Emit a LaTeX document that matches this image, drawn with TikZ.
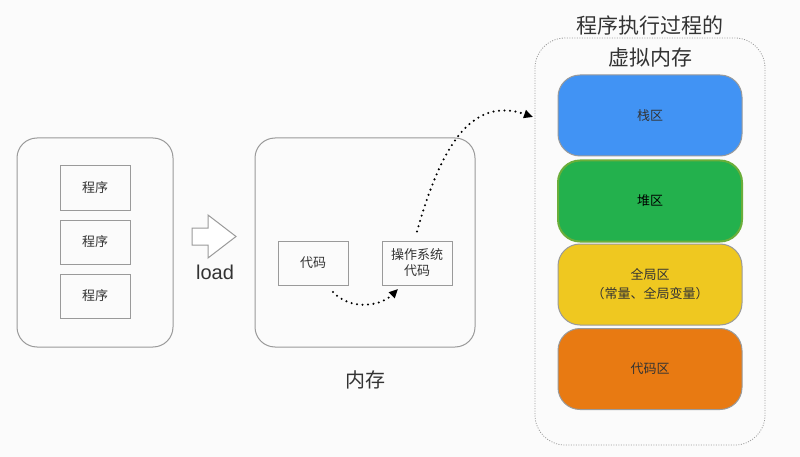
\documentclass[tikz,border=0pt]{standalone}
\usepackage{fontspec}
\setmainfont{Noto Sans CJK SC}
\newfontfamily\latinsans{Liberation Sans}
\usetikzlibrary{arrows.meta}
\definecolor{bgc}{HTML}{FBFBFB}
\definecolor{boxline}{HTML}{9A9A9A}
\definecolor{cblue}{HTML}{4193F4}
\definecolor{cgreen}{HTML}{23B14D}
\definecolor{cgreenb}{HTML}{6AAE3A}
\definecolor{cyellow}{HTML}{EFC820}
\definecolor{corange}{HTML}{E87A12}
\definecolor{txt}{HTML}{333333}
\tikzset{
  bigbox/.style={draw=boxline, line width=1pt, rounded corners=20pt},
  smallbox/.style={draw=boxline, line width=1pt, minimum width=70pt, minimum height=44pt, inner sep=0pt, font=\fontsize{13}{16}\selectfont, text=txt, align=center},
  seg/.style={draw=boxline, line width=1pt, rounded corners=22pt, minimum width=184pt, minimum height=81pt, inner sep=0pt, font=\fontsize{13}{19}\selectfont, text=txt, align=center},
  dotarrow/.style={line width=2.3pt, line cap=round, dash pattern=on 0pt off 5.5pt, -{Triangle[length=9pt,width=8pt]}},
}
\begin{document}
\begin{tikzpicture}[x=1pt,y=-1pt]
\fill[bgc] (0,0) rectangle (800,457);
\useasboundingbox (0,0) rectangle (800,457);
% left box
\draw[bigbox] (17,138) rectangle (173,347);
\node[smallbox] (p1) at (95,188) {程序};
\node[smallbox] (p2) at (95,242) {程序};
\node[smallbox] (p3) at (95,296) {程序};
% block arrow
\draw[boxline, line width=1pt, fill=white, line join=miter] (192,228) -- (208,228) -- (208,215) -- (236,236.5) -- (208,258) -- (208,245) -- (192,245) -- cycle;
\node[font=\latinsans\fontsize{20}{24}\selectfont, text=txt] (load) at (215,272) {load};
% middle box
\draw[bigbox] (255,138) rectangle (475,347);
\node[smallbox] (code) at (313,263) {代码};
\node[smallbox] (os) at (417,263) {操作系统\\代码};
\node[font=\fontsize{20}{24}\selectfont, text=txt] (mem) at (365,380) {内存};
\draw[dotarrow] (333,292) .. controls (352,312) and (382,305) .. (398,289);
% virtual memory
\draw[boxline, line width=0.8pt, dash pattern=on 1pt off 1.5pt, rounded corners=30pt] (535,38) rectangle (765,445);
\node[font=\fontsize{21}{32}\selectfont, text=txt, align=center] (title) at (650,41) {程序执行过程的\\虚拟内存};
\coordinate (vmin) at (533,117);
\draw[dotarrow] ([yshift=9pt]os.north) .. controls (440,150) and (470,95) .. (vmin);
\node[seg, fill=cblue] (stack) at (650,115.5) {栈区};
\node[seg, fill=cgreen, draw=cgreenb, line width=2pt] (heap) at (650,201) {\textcolor{black}{堆区}};
\node[seg, fill=cyellow] (global) at (650,284.5) {全局区\\（常量、全局变量）};
\node[seg, fill=corange] (codeseg) at (650,369) {代码区};
\end{tikzpicture}
\end{document}
